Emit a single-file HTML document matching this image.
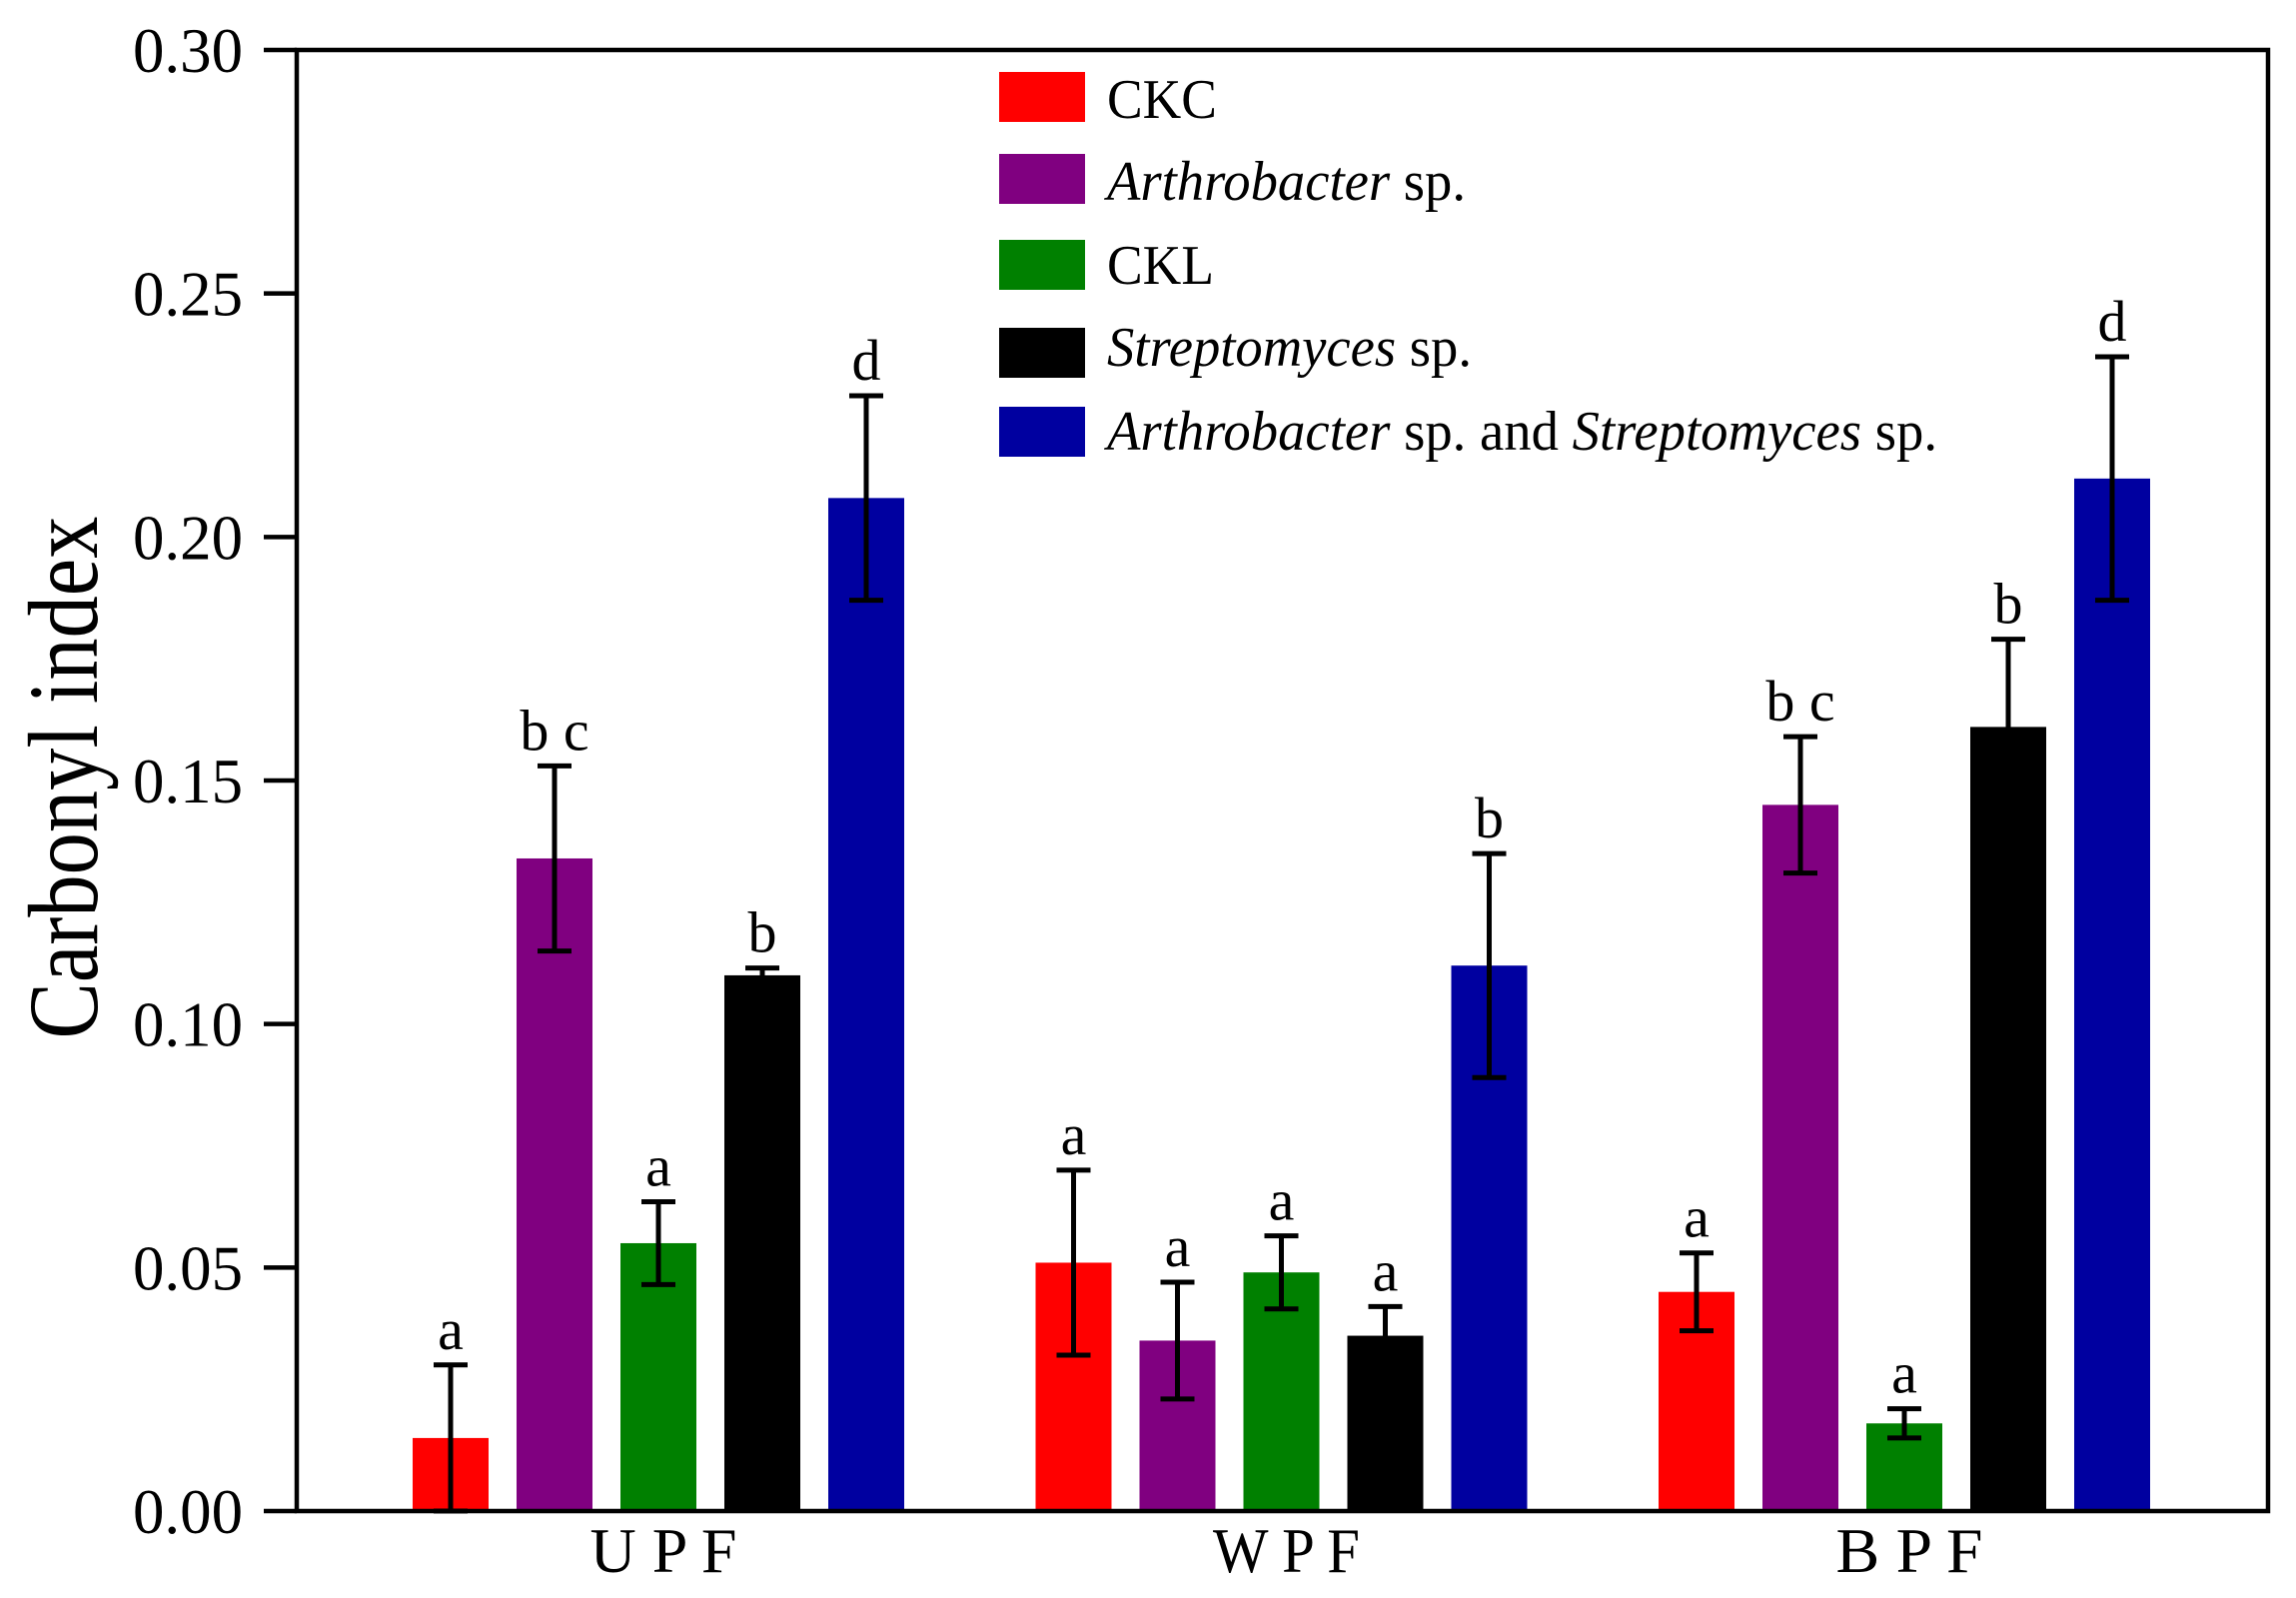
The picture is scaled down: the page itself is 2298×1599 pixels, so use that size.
<!DOCTYPE html>
<html><head><meta charset="utf-8"><style>
html,body{margin:0;padding:0;background:#fff;}
svg{display:block;font-family:"Liberation Serif",serif;}
</style></head><body>
<svg id="chart" width="2298" height="1599" viewBox="0 0 2298 1599" xmlns="http://www.w3.org/2000/svg">
<rect x="0" y="0" width="2298" height="1599" fill="#fff"/>
<g id="plot"></g>
</svg>
<script>
const groups = ["U P F", "W P F", "B P F"];
const seriesNames = ["CKC", "Arthrobacter sp.", "CKL", "Streptomyces sp.", "Arthrobacter sp. and Streptomyces sp."];
const seriesColors = ["#ff0000", "#800080", "#008000", "#000000", "#0000a0"];
const ckc = [0.015, 0.051, 0.045];
const arthro = [0.134, 0.035, 0.145];
const ckl = [0.055, 0.049, 0.018];
const strep = [0.110, 0.036, 0.161];
const both = [0.208, 0.112, 0.212];
const ckcErr = [0.015, 0.019, 0.008];
const arthroErr = [0.019, 0.012, 0.014];
const cklErr = [0.0085, 0.0075, 0.003];
const strepErr = [0.0015, 0.006, 0.018];
const bothErr = [0.021, 0.023, 0.025];
const ckcLetters = ["a", "a", "a"];
const arthroLetters = ["b c", "a", "b c"];
const cklLetters = ["a", "a", "a"];
const strepLetters = ["b", "a", "b"];
const bothLetters = ["d", "b", "d"];
const yTicks = [0, 0.05, 0.10, 0.15, 0.20, 0.25, 0.30];
const yTickLabels = ["0.00", "0.05", "0.10", "0.15", "0.20", "0.25", "0.30"];

const NS = "http://www.w3.org/2000/svg";
const g = document.getElementById("plot");
const X0 = 297, X1 = 2270, Y0 = 1512, Y1 = 50;
const yScale = v => Y0 - (v / 0.30) * (Y0 - Y1);
const groupLeft = i => 413 + i * 623.5;
const barStep = 104, barW = 76;
const barX = (gi, si) => groupLeft(gi) + si * barStep;
function mk(tag, attrs, parent) {
  const e = document.createElementNS(NS, tag);
  for (const k in attrs) e.setAttribute(k, attrs[k]);
  (parent || g).appendChild(e);
  return e;
}
const values = [ckc, arthro, ckl, strep, both];
const errs = [ckcErr, arthroErr, cklErr, strepErr, bothErr];
const letters = [ckcLetters, arthroLetters, cklLetters, strepLetters, bothLetters];
const keys = ["ckc", "arthrobacter", "ckl", "streptomyces", "combined"];

for (let s = 0; s < values.length; s++) {
  for (let i = 0; i < groups.length; i++) {
    const v = values[s][i], x = barX(i, s), y = yScale(v);
    const r = mk("rect", {x: x, y: y, width: barW, height: Y0 - y, fill: seriesColors[s]});
    
    
    const cx = x + barW / 2, hi = yScale(v + errs[s][i]), lo = yScale(v - errs[s][i]);
    const eb = mk("path", {d: `M${cx},${lo}V${hi}M${cx-17},${hi}H${cx+17}M${cx-17},${lo}H${cx+17}`, stroke: "#000", "stroke-width": 5, fill: "none"});
    
    
    const t = mk("text", {x: cx, y: hi - 16, "text-anchor": "middle", "font-size": 58, fill: "#000"});
    t.textContent = letters[s][i];
    
    
  }
}
const frame = mk("rect", {x: X0, y: Y1, width: X1 - X0, height: Y0 - Y1, fill: "none", stroke: "#000", "stroke-width": 4.5});


for (let k = 0; k < yTicks.length; k++) {
  const y = yScale(yTicks[k]);
  const tk = mk("line", {x1: X0 - 33, x2: X0, y1: y, y2: y, stroke: "#000", "stroke-width": 4.5});
  
  
  const t = mk("text", {x: 243, y: y + 22, "text-anchor": "end", "font-size": 64, textLength: 110, lengthAdjust: "spacingAndGlyphs", fill: "#000"});
  t.textContent = yTickLabels[k];
  
  
}
for (let i = 0; i < groups.length; i++) {
  const cx = groupLeft(i) + (4 * barStep + barW) / 2;
  const t = mk("text", {x: cx + 5, y: 1573, "text-anchor": "middle", "font-size": 64, textLength: 147, lengthAdjust: "spacingAndGlyphs", fill: "#000"});
  t.textContent = groups[i];
  
  
}
const yt = mk("text", {x: 0, y: 0, transform: "translate(97,778) rotate(-90)", "text-anchor": "middle", "font-size": 100, textLength: 523, lengthAdjust: "spacingAndGlyphs", fill: "#000", "xml:space": "preserve"});
yt.textContent = "Carbonyl   index";


const legY = [72, 154, 240, 328, 407];
const legBase = [118, 200, 284, 366, 450];
const legW = [110, 359, 107, 365, 831];
const legParts = [
  [["CKC", false]],
  [["Arthrobacter", true], [" sp.", false]],
  [["CKL", false]],
  [["Streptomyces", true], [" sp.", false]],
  [["Arthrobacter", true], [" sp. and ", false], ["Streptomyces", true], [" sp.", false]]
];
for (let s = 0; s < 5; s++) {
  const sw = mk("rect", {x: 1000, y: legY[s], width: 86, height: 50, fill: seriesColors[s]});
  
  
  const t = mk("text", {x: 1108, y: legBase[s], "font-size": 56, textLength: legW[s], lengthAdjust: "spacingAndGlyphs", fill: "#000"});
  
  
  for (const [txt, it] of legParts[s]) {
    const ts = mk("tspan", it ? {"font-style": "italic"} : {}, t);
    ts.textContent = txt;
  }
}
</script>
</body></html>
